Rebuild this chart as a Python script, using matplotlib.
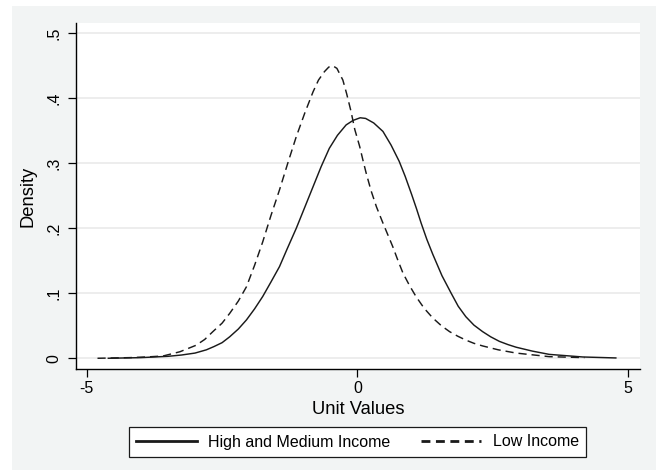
import matplotlib
matplotlib.use('Agg')
import matplotlib.pyplot as plt
from matplotlib.patches import Rectangle

plt.rcParams['font.family'] = ['Liberation Sans', 'DejaVu Sans']

# High and Medium Income density
hm_x = [-4.60, -4.00, -3.50, -3.25, -3.00, -2.79, -2.65, -2.50, -2.36, -2.20,
        -2.05, -1.90, -1.75, -1.60, -1.44, -1.30, -1.13, -0.97, -0.82, -0.67,
        -0.52, -0.37, -0.21, -0.08, 0.05, 0.15, 0.30, 0.47, 0.62, 0.77,
        0.88, 1.00, 1.09, 1.175, 1.28, 1.39, 1.56, 1.73, 1.86, 2.00,
        2.15, 2.31, 2.46, 2.62, 2.78, 2.93, 3.23, 3.54, 4.16, 4.77]
hm_y = [0.000, 0.001, 0.003, 0.005, 0.008, 0.013, 0.018, 0.024, 0.033, 0.045,
        0.059, 0.076, 0.095, 0.117, 0.141, 0.168, 0.200, 0.233, 0.264, 0.295,
        0.323, 0.343, 0.359, 0.366, 0.370, 0.369, 0.362, 0.349, 0.328, 0.303,
        0.280, 0.252, 0.230, 0.208, 0.183, 0.160, 0.127, 0.100, 0.080, 0.064,
        0.051, 0.041, 0.033, 0.026, 0.021, 0.017, 0.011, 0.006, 0.002, 0.0005]

# Low Income density
lo_x = [-4.80, -4.20, -3.90, -3.59, -3.28, -3.13, -2.98, -2.82, -2.67, -2.50,
        -2.36, -2.20, -2.05, -1.90, -1.75, -1.60, -1.44, -1.28, -1.13, -0.97,
        -0.82, -0.72, -0.61, -0.53, -0.456, -0.38, -0.27, -0.20, -0.12, -0.05,
        0.04, 0.10, 0.16, 0.25, 0.35, 0.47, 0.56, 0.65, 0.74, 0.84,
        0.96, 1.08, 1.23, 1.39, 1.55, 1.70, 1.85, 2.00, 2.15, 2.31,
        2.60, 2.93, 3.54, 4.19]
lo_y = [0.000, 0.001, 0.002, 0.0035, 0.010, 0.015, 0.020, 0.029, 0.041, 0.054,
        0.069, 0.088, 0.110, 0.143, 0.179, 0.219, 0.259, 0.302, 0.341, 0.378,
        0.410, 0.428, 0.441, 0.448, 0.450, 0.446, 0.428, 0.407, 0.380, 0.352,
        0.326, 0.305, 0.285, 0.258, 0.233, 0.208, 0.190, 0.172, 0.152, 0.131,
        0.112, 0.095, 0.077, 0.062, 0.050, 0.041, 0.034, 0.028, 0.023, 0.019,
        0.013, 0.008, 0.0025, 0.001]

x_ticks = [-5, 0, 5]
x_labels = ['-5', '0', '5']
y_ticks = [0, 0.1, 0.2, 0.3, 0.4, 0.5]
y_labels = ['0', '.1', '.2', '.3', '.4', '.5']

W, H = 656, 470
fig = plt.figure(figsize=(W / 100, H / 100), dpi=100, facecolor='white')
# grey graph region (Stata style), kept behind the axes
fig.patches.append(Rectangle((12 / W, 0), 1 - 12 / W, 1 - 6 / H,
                             transform=fig.transFigure, facecolor='#f2f4f4',
                             edgecolor='none', zorder=-10))

ax = fig.add_axes([76 / W, 1 - 369 / H, (640 - 76) / W, (369 - 23) / H])
ax.set_facecolor('white')

ax.plot(hm_x, hm_y, color='#1a1a1a', lw=1.05, label='High and Medium Income')
ax.plot(lo_x, lo_y, color='#1a1a1a', lw=1.05, dashes=(5.6, 3.4), label='Low Income')

ax.set_xlim(-5.197, 5.216)
ax.set_ylim(-0.0165, 0.5158)
ax.set_xticks(x_ticks)
ax.set_xticklabels(x_labels)
ax.set_yticks(y_ticks)
ax.set_yticklabels(y_labels, rotation=90, va='center')
ax.yaxis.grid(True, color='#eaeaea', lw=1.2)
ax.set_axisbelow(True)

for s in ['top', 'right']:
    ax.spines[s].set_visible(False)
for s in ['left', 'bottom']:
    ax.spines[s].set_linewidth(1.0)
    ax.spines[s].set_color('black')
ax.tick_params(axis='both', direction='out', length=5.5, width=0.9,
               labelsize=11.5, colors='black')
ax.tick_params(axis='y', pad=5)
ax.tick_params(axis='x', pad=3)

ax.set_xlabel('Unit Values', fontsize=13.2, labelpad=4)
ax.set_ylabel('Density', fontsize=13.2, labelpad=7)

leg = fig.legend(loc='center', bbox_to_anchor=(357.5 / W, 1 - 442 / H), ncol=2,
                 fontsize=11.5, frameon=True, fancybox=False, shadow=False,
                 handlelength=3.8, handletextpad=0.7, columnspacing=1.9,
                 borderpad=0.45, borderaxespad=0)
leg.get_frame().set_edgecolor('#1a1a1a')
leg.get_frame().set_linewidth(0.9)
leg.get_frame().set_facecolor('white')
leg.get_frame().set_alpha(1)
for ln in leg.get_lines():
    ln.set_linewidth(2.0)
leg.get_lines()[1].set_dashes((3.2, 2.0))

fig.savefig('out.png', dpi=100, facecolor=fig.get_facecolor())
